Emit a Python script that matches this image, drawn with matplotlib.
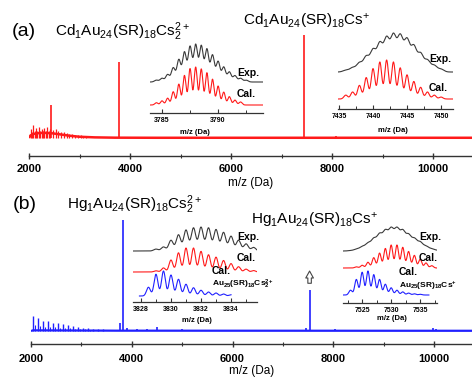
import numpy as np
import matplotlib
matplotlib.use("Agg")
import matplotlib.pyplot as plt

plt.rcParams['font.family'] = ['Liberation Sans', 'DejaVu Sans']
plt.rcParams['mathtext.fontset'] = 'custom'
plt.rcParams['mathtext.rm'] = 'Liberation Sans'
plt.rcParams['mathtext.it'] = 'Liberation Sans:italic'
plt.rcParams['mathtext.bf'] = 'Liberation Sans:bold'

W, H = 472, 377

# ---------------- data: main spectra ----------------
main_ticks = [2000, 4000, 6000, 8000, 10000]
main_minor = [3000, 5000, 7000, 9000]

# panel (a) continuum (hump) and peaks
a_cont_x = [2000, 2030, 2100, 2200, 2300, 2450, 2600, 2800, 3000, 3300, 3700, 4500, 10800]
a_cont_y = [0.0, 2.5, 4.0, 4.8, 5.0, 4.6, 3.6, 2.2, 1.2, 0.6, 0.3, 0.2, 0.2]
a_comb_x = [2030, 2058, 2085, 2112, 2140, 2168, 2195, 2222, 2250, 2278, 2305, 2332, 2360, 2388,
            2415, 2470, 2525, 2580, 2635, 2690, 2745, 2800, 2855, 2910, 2965, 3020, 3075, 3130]
a_comb_y = [9, 6, 13, 7, 10, 7, 11, 7, 9, 7, 10, 7, 11, 6.5,
            9, 8, 9, 7, 6, 6, 5, 4, 4, 3, 3, 2.5, 2, 1.5]
a_peak_x = [2440, 3790, 7445, 8080]
a_peak_y = [32, 74, 100, 1.5]

# panel (b)
b_cont_x = [2000, 2040, 3700, 10800]
b_cont_y = [0.0, 0.6, 0.3, 0.2]
b_comb_x = [2046, 2145, 2244, 2343, 2442, 2542, 2641, 2740, 2839, 2938, 3038, 3137, 3236, 3335, 3435]
b_comb_y = [13.5, 11.4, 9.0, 9.0, 7.5, 6.9, 6.0, 5.4, 4.5, 3.6, 3.0, 2.4, 2.1, 1.8, 1.4]
b_comb2_x = [2076, 2175, 2274, 2373, 2472, 2572, 2671, 2770, 2869, 2968, 3068, 3167]
b_comb2_y = [5, 4.5, 4, 3.8, 3.3, 3, 2.7, 2.4, 2.1, 1.8, 1.5, 1.2]
b_peak_x = [3760, 3830, 3900, 4100, 4300, 4500, 5000, 7460, 7530, 8030, 9980, 10030]
b_peak_y = [7, 100, 3, 2, 2, 4, 1.5, 3, 37, 1.5, 2.5, 1.5]

# ---------------- data: isotope patterns ----------------
aL_exp_pos = [3784.5, 3785.0, 3785.5, 3786.0, 3786.5, 3787.0, 3787.5, 3788.0, 3788.5,
              3789.0, 3789.5, 3790.0, 3790.5, 3791.0, 3791.5, 3792.0, 3792.5]
aL_exp_h = [0.05, 0.1, 0.2, 0.38, 0.6, 0.8, 0.95, 1.0, 0.97, 0.88, 0.72, 0.55, 0.4, 0.27, 0.17, 0.1, 0.05]
aL_cal_pos = [3784.5, 3785.0, 3785.5, 3786.0, 3786.5, 3787.0, 3787.5, 3788.0, 3788.5,
              3789.0, 3789.5, 3790.0, 3790.5, 3791.0, 3791.5, 3792.0]
aL_cal_h = [0.06, 0.11, 0.18, 0.35, 0.55, 0.78, 0.96, 1.0, 0.95, 0.85, 0.68, 0.5, 0.34, 0.22, 0.13, 0.08]

aR_exp_pos = [7436, 7437, 7438, 7439, 7440, 7441, 7442, 7443, 7444, 7445, 7446, 7447, 7448, 7449, 7450]
aR_exp_h = [0.05, 0.12, 0.25, 0.42, 0.6, 0.78, 0.92, 1.0, 0.98, 0.88, 0.7, 0.5, 0.32, 0.18, 0.08]
aR_cal_pos = [7436, 7437, 7438, 7439, 7440, 7441, 7442, 7443, 7444, 7445, 7446, 7447, 7448, 7449, 7450]
aR_cal_h = [0.1, 0.18, 0.35, 0.55, 0.78, 0.95, 1.0, 0.95, 0.8, 0.62, 0.45, 0.3, 0.18, 0.1, 0.05]

bL_exp_pos = [3829.0, 3829.5, 3830.0, 3830.5, 3831.0, 3831.5, 3832.0, 3832.5, 3833.0,
              3833.5, 3834.0, 3834.5, 3835.0, 3835.5]
bL_exp_h = [0.08, 0.17, 0.45, 0.68, 0.88, 0.97, 1.0, 0.97, 0.9, 0.78, 0.62, 0.45, 0.3, 0.15]
bL_cal_pos = [3829.0, 3829.5, 3830.0, 3830.5, 3831.0, 3831.5, 3832.0, 3832.5, 3833.0,
              3833.5, 3834.0, 3834.5, 3835.0, 3835.5]
bL_cal_h = [0.05, 0.17, 0.5, 0.8, 1.0, 1.0, 0.86, 0.72, 0.62, 0.48, 0.35, 0.22, 0.12, 0.06]
bL_au_pos = [3828.5, 3829.0, 3829.5, 3830.0, 3830.5, 3831.0, 3831.5, 3832.0, 3832.5, 3833.0, 3833.5, 3834.0]
bL_au_h = [0.35, 0.87, 1.0, 0.84, 0.67, 0.47, 0.33, 0.23, 0.16, 0.12, 0.08, 0.05]

bR_exp_pos = [7523, 7524, 7525, 7526, 7527, 7528, 7529, 7530, 7531, 7532, 7533, 7534, 7535, 7536, 7537, 7538]
bR_exp_h = [0.02, 0.08, 0.2, 0.35, 0.55, 0.75, 0.9, 1.0, 1.0, 0.9, 0.72, 0.55, 0.4, 0.22, 0.1, 0.03]
bR_cal_pos = [7524, 7525, 7526, 7527, 7528, 7529, 7530, 7531, 7532, 7533, 7534, 7535, 7536, 7537]
bR_cal_h = [0.05, 0.12, 0.25, 0.45, 0.65, 0.85, 1.0, 1.0, 0.9, 0.72, 0.55, 0.38, 0.22, 0.1]
bR_au_pos = [7523, 7524, 7525, 7526, 7527, 7528, 7529, 7530, 7531, 7532, 7533, 7534, 7535]
bR_au_h = [0.2, 0.65, 0.95, 1.0, 0.85, 0.65, 0.45, 0.3, 0.2, 0.13, 0.08, 0.05, 0.03]

RED = '#ff1a1a'
BLUE = '#2020ff'
GRAY = '#3a3a3a'
AXC = '#333333'


def rect(x0, y0, x1, y1):
    return [x0 / W, 1 - y1 / H, (x1 - x0) / W, (y1 - y0) / H]


def ftext(x, y, s, **kw):
    kw.setdefault('va', 'center')
    kw.setdefault('ha', 'left')
    fig.text(x / W, 1 - y / H, s, **kw)


def profile(x, pos, hts, sigma):
    y = np.zeros_like(x)
    for p, h in zip(pos, hts):
        y += h * np.exp(-0.5 * ((x - p) / sigma) ** 2)
    return y / y.max()


fig = plt.figure(figsize=(W / 100, H / 100), dpi=100)


def style_main(ax, pad):
    for s in ['top', 'left', 'right']:
        ax.spines[s].set_visible(False)
    ax.spines['bottom'].set_color(AXC)
    ax.spines['bottom'].set_linewidth(1.0)
    ax.set_yticks([])
    ax.set_xticks(main_ticks)
    ax.set_xticklabels([str(t) for t in main_ticks], fontweight='bold', fontsize=8)
    ax.set_xticks(main_minor, minor=True)
    ax.tick_params(axis='x', which='major', direction='inout', length=5, width=1,
                   pad=pad, colors=AXC, labelcolor='black')
    ax.tick_params(axis='x', which='minor', direction='inout', length=3, width=0.8, colors=AXC)
    ax.patch.set_alpha(0)


# ---------------- panel (a) main ----------------
axA = fig.add_axes(rect(29, 0, 472, 156))
axA.set_xlim(2000, 10772)
axA.set_ylim(-17.5, 134)
style_main(axA, 3.5)
axA.plot(a_cont_x, a_cont_y, color=RED, lw=1.8, solid_capstyle='butt')
axA.vlines(a_comb_x, 0, a_comb_y, color=RED, lw=0.9)
axA.vlines(a_peak_x, 0, a_peak_y, color=RED, lw=1.2)

# ---------------- panel (b) main ----------------
axB = fig.add_axes(rect(31, 190, 472, 344))
axB.set_xlim(2000, 10754)
axB.set_ylim(-11.7, 127)
style_main(axB, 5)
axB.plot(b_cont_x, b_cont_y, color=BLUE, lw=1.6, solid_capstyle='butt')
axB.vlines(b_comb_x, 0, b_comb_y, color=BLUE, lw=1.0)
axB.vlines(b_comb2_x, 0, b_comb2_y, color=BLUE, lw=0.8)
axB.vlines(b_peak_x, 0, b_peak_y, color=BLUE, lw=1.2)
axB.annotate('', xy=(7530, 54), xytext=(7530, 43),
             arrowprops=dict(arrowstyle='simple,head_width=0.55,head_length=0.5,tail_width=0.25',
                             fc='white', ec='#444444', lw=0.8, shrinkA=0, shrinkB=0,
                             mutation_scale=10))


# ---------------- insets ----------------
def make_inset(r, xlim, ylim, major, minor, labels):
    ax = fig.add_axes(rect(*r))
    ax.set_xlim(*xlim)
    ax.set_ylim(*ylim)
    for s in ['top', 'left', 'right']:
        ax.spines[s].set_visible(False)
    ax.spines['bottom'].set_color(AXC)
    ax.spines['bottom'].set_linewidth(0.9)
    ax.set_yticks([])
    ax.set_xticks(major)
    ax.set_xticklabels(labels, fontweight='bold', fontsize=5)
    ax.set_xticks(minor, minor=True)
    ax.tick_params(axis='x', which='major', direction='in', length=3, width=0.8, pad=3, colors=AXC,
                   labelcolor='black')
    ax.tick_params(axis='x', which='minor', direction='in', length=2, width=0.7, colors=AXC)
    ax.patch.set_alpha(0)
    return ax


# (a) left
ax = make_inset((150, 40, 263, 113), (3783.93, 3794.0), (0, 73),
                [3785, 3790], [3787.5, 3792.5], ['3785', '3790'])
x = np.linspace(3783.93, 3794.0, 800)
ax.plot(x, 31 + 38 * profile(x, aL_exp_pos, aL_exp_h, 0.17), color=GRAY, lw=0.8)
ax.plot(x, 8 + 38 * profile(x, aL_cal_pos, aL_cal_h, 0.14), color=RED, lw=0.8)
ftext(237, 73, 'Exp.', fontsize=7.5, fontweight='bold')
ftext(237, 94, 'Cal.', fontsize=7.5, fontweight='bold')
ftext(195, 132, 'm/z (Da)', fontsize=5.5, fontweight='bold', ha='center')

# (a) right
ax = make_inset((338, 25, 453, 109), (7434.85, 7451.76), (0, 84),
                [7435, 7440, 7445, 7450], [7437.5, 7442.5, 7447.5], ['7435', '7440', '7445', '7450'])
x = np.linspace(7434.85, 7451.76, 800)
ax.plot(x, 37 + 39 * profile(x, aR_exp_pos, aR_exp_h, 0.42), color=GRAY, lw=0.8)
ax.plot(x, 10 + 39 * profile(x, aR_cal_pos, aR_cal_h, 0.28), color=RED, lw=0.8)
ftext(429, 59, 'Exp.', fontsize=7.5, fontweight='bold')
ftext(429, 88, 'Cal.', fontsize=7.5, fontweight='bold')
ftext(393, 130, 'm/z (Da)', fontsize=5.5, fontweight='bold', ha='center')

# (b) left
ax = make_inset((133, 215, 257, 302), (3827.47, 3835.73), (0, 87),
                [3828, 3830, 3832, 3834], [3829, 3831, 3833, 3835], ['3828', '3830', '3832', '3834'])
x = np.linspace(3827.47, 3835.73, 800)
ax.plot(x, 51 + 24 * profile(x, bL_exp_pos, bL_exp_h, 0.15), color=GRAY, lw=0.8)
ax.plot(x, 30 + 24 * profile(x, bL_cal_pos, bL_cal_h, 0.13), color=RED, lw=0.8)
xb = np.linspace(3827.9, 3834.0, 600)
ax.plot(xb, 6 + 25 * profile(xb, bL_au_pos, bL_au_h, 0.13), color=BLUE, lw=0.8)
ftext(237, 237, 'Exp.', fontsize=7.5, fontweight='bold')
ftext(237, 258, 'Cal.', fontsize=7.5, fontweight='bold')
ftext(212, 271, 'Cal.', fontsize=7.5, fontweight='bold')
ftext(212, 284, r'$\mathbf{Au_{25}(SR)_{18}Cs_2^{2+}}$', fontsize=6)
ftext(197, 320, 'm/z (Da)', fontsize=5.5, fontweight='bold', ha='center')

# (b) right
ax = make_inset((343, 215, 437, 303), (7521.7, 7537.9), (0, 88),
                [7525, 7530, 7535], [7522.5, 7527.5, 7532.5, 7537.5], ['7525', '7530', '7535'])
x = np.linspace(7521.7, 7537.9, 800)
ax.plot(x, 52 + 24 * profile(x, bR_exp_pos, bR_exp_h, 0.45), color=GRAY, lw=0.8)
ax.plot(x, 35 + 23 * profile(x, bR_cal_pos, bR_cal_h, 0.28), color=RED, lw=0.8)
xb = np.linspace(7521.7, 7536.5, 600)
ax.plot(xb, 8 + 24 * profile(xb, bR_au_pos, bR_au_h, 0.28), color=BLUE, lw=0.8)
ftext(419, 237, 'Exp.', fontsize=7.5, fontweight='bold')
ftext(419, 258, 'Cal.', fontsize=7.5, fontweight='bold')
ftext(399, 272, 'Cal.', fontsize=7.5, fontweight='bold')
ftext(399, 286, r'$\mathbf{Au_{25}(SR)_{18}Cs^{+}}$', fontsize=6)
ftext(392, 319, 'm/z (Da)', fontsize=5.5, fontweight='bold', ha='center')

# ---------------- titles / labels ----------------
ftext(12, 32, '(a)', fontsize=14)
ftext(55, 32, r'Cd$_1$Au$_{24}$(SR)$_{18}$Cs$_2^{2+}$', fontsize=11)
ftext(243, 21, r'Cd$_1$Au$_{24}$(SR)$_{18}$Cs$^{+}$', fontsize=11)
ftext(13, 205, '(b)', fontsize=14)
ftext(67, 205, r'Hg$_1$Au$_{24}$(SR)$_{18}$Cs$_2^{2+}$', fontsize=11)
ftext(251, 220, r'Hg$_1$Au$_{24}$(SR)$_{18}$Cs$^{+}$', fontsize=11)
ftext(251, 183, 'm/z (Da)', fontsize=8.5, ha='center')
ftext(252, 371, 'm/z (Da)', fontsize=8.5, ha='center')

fig.savefig('out.png', dpi=100)
